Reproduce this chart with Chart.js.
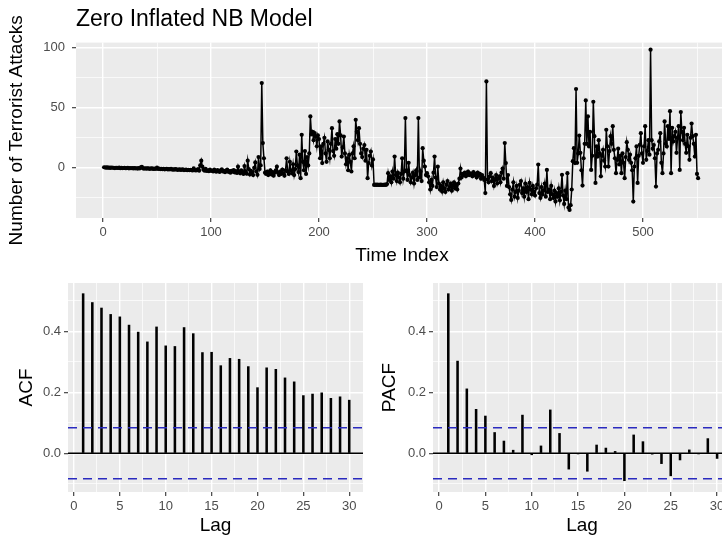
<!DOCTYPE html>
<html>
<head>
<meta charset="utf-8">
<script src="https://cdn.jsdelivr.net/npm/chart.js@4.4.0/dist/chart.umd.min.js"></script>
<style>
  html, body { margin: 0; padding: 0; width: 722px; height: 539px; overflow: hidden; background: #fff; }
  canvas { position: absolute; }
</style>
</head>
<body>
<canvas id="ts" width="736" height="270" style="left:0;top:0"></canvas>
<canvas id="acf" width="368" height="269" style="left:0;top:270px"></canvas>
<canvas id="pacf" width="374" height="269" style="left:362px;top:270px"></canvas>
<script>
// Fitted series (time index 1..551)
const ts1_100 = [
  0.5,0.3,0.2,0.4,0.1,0.2,0,0.3,0.1,0,-0.2,0.1,0,-0.1,0.2,-0.3,0,-0.2,-0.1,0,-0.3,-0.2,0.1,-0.4,-0.2,
  -0.3,-0.1,-0.5,-0.2,-0.4,-0.3,-0.6,-0.2,-0.5,0.4,0.9,-0.4,-0.6,-0.3,-0.7,-0.5,-0.4,-0.8,-0.6,-0.5,-0.7,-0.9,-0.6,-0.8,0.2,
  -0.9,-0.7,-1,-0.8,-1.1,-0.9,-1.2,-1,-0.8,-1.3,-1.1,-1.2,-0.9,-1.4,-1.2,-1.5,-1.1,-1.3,-1.6,-1.4,-1.2,-1.7,-1.5,-1.3,-1.8,
  -1.6,-1.4,-1.9,-1.7,-2,-1.6,-1.8,-2.1,-0.5,-2,-2.2,-1.8,-1,-2.3,2,6,1,-1.5,-2.4,-0.8,-2.6,-2,-2.8,-1.4,-2.5
];
const ts101_200 = [
  -2.2,-3,-1.5,-2.8,-3.2,-1.8,-2.6,-3.4,-2,-1.2,-3,-2.5,-3.6,-2.2,-1.5,-3.3,-2.7,-4,-2.4,-3.1,-1.8,-3.8,-2.6,-4.2,1,
  -3,-4.5,-2,-3.6,-5,1.5,-3.2,-4.8,6,-1,-5.5,-2.5,-4,-6,0,4.5,-3,-5.8,9,-1,2,70.5,20.6,8,-4,
  -5,-3,-6,-4.5,-2,-5.5,-3.5,-6.5,-4,-2,1,-4,-6,-3,-5,-1.5,-4.5,-6.5,-2,8,-3,-5,5,-2,-4.5,
  3,-6,-1,13.6,2,-3.5,11,-8.6,27.5,5,-2,14,-5,9,2,12,42.8,28,30,23,29,26,18,27,24
];
const ts201_300 = [
  8,18,4,20,25,12,5,22,15,8,20,33,14,10,24,16,28,20,38.6,27,9.4,17,26,12,3,
  8,-2,10.8,5,-3,12,18,8,40,30,23,33,20,12,9,16,19,6,15,-8.6,4,10,13.6,2,7,
  -14.2,-14,-14.2,-14,-14.2,-14.2,-14,-14.2,-14.1,-14.2,-14,-14.2,-13.5,-4.4,-10,-7,-12,-3,-9,9.4,-6,-11,-4,-8,-12,
  -5,8,-9,-3,41.4,-2,-10,4.2,-6,-12,-8,-4,-13,-6,-2,-10,41.4,-8,-3,-11,16.4,6,1.1,-6,-4.4
];
const ts301_400 = [
  -7,-12,-18,-10,-15,-4,9.4,-8,-16,1,-13,-18,-15,-19.7,-12,-17,-20,-14,-11,-18,-16,-13,-19,-15,-12,
  -17,-14,-18,-13,-9,-0.6,-8,-5,-6,-4,-7,-5.5,-3,-6,-4.5,-5,-7,-3.5,-6,-5,-8,-4,-6.5,-5,-9,
  -6,-8,-10,-21,71.9,-9.7,-12,-7,-4.4,-11,-8,-15,-10,-6,-13,-9,-7,-12,-4,-0.6,-9,20.6,4,-15,-6,
  -16,-22,-26.7,-18,-12,-24,-20,-15,-25,-19,-14,-11,-21,-17,-24,-13,-20,-16,-26,-12.5,-18,-22,-15,-20,-23
];
const ts401_500 = [
  -17,-14,2.8,-21,-25,-16,-22,-19,-13,-24,-1.7,-20,-18,-26,-15,-22,-25,-19,-28,-21,-24,-17,-27,-20,-5.8,
  -23,-30,-19,-26,-4.4,-33,-35,-31,-18,5.6,16.4,4,65.6,4.2,12,
  26.9,12.5,-2,-14.7,8,20,56.1,20,42.8,17.8,
  30,-1.7,10,55,26.4,-12.5,18,9.4,23,12,
  -7,10,15,6,1.1,31.7,18,1.1,14,26.4,
  20,34.7,15,8,-4.4,6.7,16,2.8,10,-4.4,
  12,4.2,-8.6,9,21.4,15,6.7,11,4.2,-2,
  -28,1.1,8,17.8,-12.5,10,19.2,28.9,12,4.2
];
const ts501_551 = [
  18,34.7,6.7,14,23,11,98.3,23,16,19,
  8,-15.6,12,15,22,28.9,4.2,-4.4,12,38.6,
  20,17.8,34.7,24,47.2,-4.4,33.3,22,26.4,30,
  12.5,25,34.7,-1.7,46.4,30,23,33.3,20,12.5,
  27.5,18,6.7,25,36.9,26.4,20,9.4,27.5,-5,-8.6
];

// Autocorrelations
const lags = [1,2,3,4,5,6,7,8,9,10,11,12,13,14,15,16,17,18,19,20,21,22,23,24,25,26,27,28,29,30];
const acfValues = [0.523,0.494,0.476,0.455,0.447,0.420,0.397,0.365,0.414,0.352,0.350,0.412,0.392,0.330,0.331,
  0.287,0.311,0.308,0.284,0.215,0.280,0.275,0.247,0.234,0.189,0.194,0.198,0.180,0.185,0.174];
const pacfValues = [0.523,0.302,0.211,0.144,0.122,0.068,0.040,0.010,0.125,-0.005,0.024,0.142,0.065,-0.052,-0.001,
  -0.059,0.027,0.017,0.006,-0.090,0.060,0.038,-0.003,-0.034,-0.074,-0.022,0.011,-0.002,0.048,-0.017];
const ciBound = 0.0835;

// Axis breaks (major with labels, minor grid only)
const timeMajor = [0,100,200,300,400,500];
const timeMinor = [50,150,250,350,450,550];
const countMajor = [0,50,100];
const countMinor = [-25,25,75];
const lagMajor = [0,5,10,15,20,25,30];
const lagMinor = [2.5,7.5,12.5,17.5,22.5,27.5];
const corMajor = [0,0.2,0.4];
const corMinor = [-0.1,0.1,0.3,0.5];

Chart.defaults.font.family = "'Liberation Sans', Arial, sans-serif";
Chart.defaults.animation = false;

const panelBg = {
  id: 'panelBg',
  beforeDraw(chart) {
    const {ctx, chartArea: a} = chart;
    ctx.save();
    ctx.fillStyle = '#EBEBEB';
    ctx.fillRect(a.left, a.top, a.right - a.left, a.bottom - a.top);
    ctx.restore();
  }
};

const refLines = {
  id: 'refLines',
  afterDatasetsDraw(chart, args, opts) {
    const {ctx, chartArea: a, scales} = chart;
    const y = scales.y;
    ctx.save();
    (opts.solid || []).forEach(v => {
      const py = y.getPixelForValue(v);
      ctx.strokeStyle = '#000';
      ctx.lineWidth = 1.3;
      ctx.setLineDash([]);
      ctx.beginPath(); ctx.moveTo(a.left, py); ctx.lineTo(a.right, py); ctx.stroke();
    });
    (opts.dashed || []).forEach(v => {
      const py = y.getPixelForValue(v);
      ctx.strokeStyle = '#2A2ABF';
      ctx.lineWidth = 1.5;
      ctx.setLineDash([9, 6]);
      ctx.beginPath(); ctx.moveTo(a.left, py); ctx.lineTo(a.right, py); ctx.stroke();
    });
    ctx.restore();
  }
};

let axis = (majors, minors, min, max, fmt, title, titlePad, size, padTicks) => ({
  type: 'linear',
  min: min,
  max: max,
  offset: false,
  afterBuildTicks: s => {
    s.ticks = majors.concat(minors).sort((a, b) => a - b).map(v => ({value: v}));
  },
  ticks: {
    autoSkip: false,
    maxRotation: 0,
    padding: padTicks,
    color: '#4D4D4D',
    font: {size: 13},
    callback: v => majors.includes(v) ? fmt(v) : ''
  },
  grid: {
    offset: false,
    color: '#FFFFFF',
    lineWidth: c => (c.tick && majors.includes(c.tick.value)) ? 1.4 : 0.7,
    tickColor: c => (c.tick && majors.includes(c.tick.value)) ? '#333333' : 'rgba(0,0,0,0)',
    tickWidth: 1.1,
    tickLength: 4,
    drawTicks: true
  },
  border: {display: false},
  title: {display: true, text: title, color: '#000', font: {size: 19}, padding: titlePad},
  afterFit: s => {
    if (s.isHorizontal()) s.height = size; else s.width = size;
  }
});

// Time series panel
const series = ts1_100.concat(ts101_200, ts201_300, ts301_400, ts401_500, ts501_551);
new Chart(document.getElementById('ts'), {
  type: 'line',
  data: {
    datasets: [{
      data: series.map((v, i) => ({x: i + 1, y: v})),
      borderColor: '#000',
      borderWidth: 1.5,
      pointRadius: 2.1,
      pointBackgroundColor: '#000',
      pointBorderWidth: 0,
      tension: 0
    }]
  },
  options: {
    responsive: false,
    layout: {padding: {left: 0, right: 8, top: 0, bottom: 0}},
    plugins: {
      legend: {display: false},
      tooltip: {enabled: false},
      title: {
        display: true, text: 'Zero Inflated NB Model', align: 'start', fullSize: false,
        color: '#000', font: {size: 23, weight: 'normal'}, padding: {top: 6, bottom: 9}
      }
    },
    scales: {
      x: axis(timeMajor, timeMinor, -25, 578.7, v => String(v), 'Time Index', {top: 0, bottom: 3}, 52, 3),
      y: axis(countMajor, countMinor, -41.7, 104.2, v => String(v), 'Number of Terrorist Attacks', {top: 5, bottom: 0}, 76, 7)
    }
  },
  plugins: [panelBg]
});

// Correlogram panels
let initCorrelogram = (id, values, yTitle, yWidth, yTitlePad, rightPad) => {
  new Chart(document.getElementById(id), {
    type: 'bar',
    data: {
      datasets: [{
        data: lags.map((l, i) => ({x: l, y: values[i]})),
        backgroundColor: '#000',
        borderWidth: 0,
        barThickness: 1.9
      }]
    },
    options: {
      responsive: false,
      layout: {padding: {left: 0, right: rightPad, top: 13, bottom: 0}},
      plugins: {
        legend: {display: false},
        tooltip: {enabled: false},
        refLines: {solid: [0], dashed: [ciBound, -ciBound]}
      },
      scales: {
        x: axis(lagMajor, lagMinor, -0.65, 31.5, v => String(v), 'Lag', {top: 0, bottom: 2}, 47, 3),
        y: axis(corMajor, corMinor, -0.127, 0.558, v => v.toFixed(1), yTitle, {top: yTitlePad, bottom: 0}, yWidth, 3)
      }
    },
    plugins: [panelBg, refLines]
  });
};

initCorrelogram('acf', acfValues, 'ACF', 68, 15, 5);
initCorrelogram('pacf', pacfValues, 'PACF', 71, 16, 5);
</script>
</body>
</html>
